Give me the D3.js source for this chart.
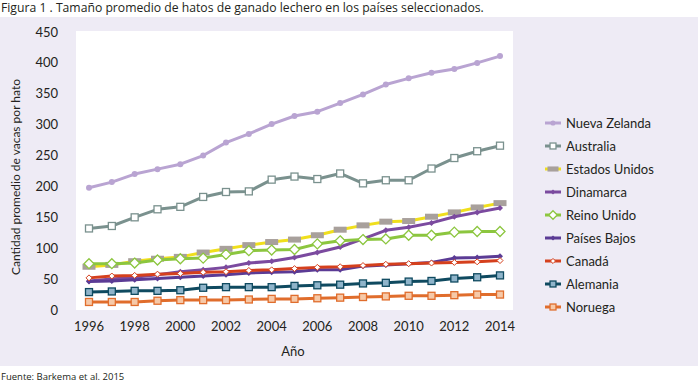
<!DOCTYPE html>
<html lang="es">
<head>
<meta charset="UTF-8">
<title>Tamaño promedio de hatos de ganado lechero</title>
<script src="https://d3js.org/d3.v7.min.js"></script>
<style>
    body { margin: 0; background: #fff; font-family: Lato, "Open Sans", sans-serif; }
    svg text { fill: #231f20; }
</style>
</head>
<body>
<svg id="chart" width="700" height="384"></svg>
<script>
// Data
const years = d3.range(1996, 2015);
const yTicks = [0, 50, 100, 150, 200, 250, 300, 350, 400, 450];
const xTicks = [1996, 1998, 2000, 2002, 2004, 2006, 2008, 2010, 2012, 2014];

const nuevaZelanda = [198, 207, 220, 228, 236, 250, 271, 285, 301, 314, 321, 335, 349, 365, 375, 384, 390, 400, 411];
const australia    = [132, 136, 150, 163, 167, 183, 191, 192, 211, 216, 212, 221, 205, 210, 210, 229, 246, 257, 266];
const estadosUnidos = [70, 73, 79, 83, 86, 93, 99, 105, 110, 114, 121, 130, 137, 143, 144, 151, 158, 166, 173];
const dinamarca    = [47, 50, 53, 57, 62, 65, 69, 76, 79, 85, 93, 102, 115, 129, 134, 141, 151, 158, 165];
const reinoUnido   = [75, 75, 76, 81, 83, 84, 90, 96, 97, 98, 107, 112, 114, 115, 121, 121, 126, 127, 127];
const paisesBajos  = [46, 47, 49, 51, 53, 55, 57, 60, 61, 62, 65, 65, 71, 73, 75, 77, 84, 85, 87];
const canada       = [52, 55, 56, 58, 59, 61, 62, 64, 65, 67, 69, 70, 72, 74, 75, 76, 77, 78, 80];
const alemania     = [29, 30, 31, 31, 32, 36, 37, 37, 37, 39, 40, 41, 43, 44, 46, 47, 51, 53, 56];
const noruega      = [13, 13, 13, 15, 16, 16, 16, 17, 18, 18, 19, 20, 21, 22, 23, 23, 24, 25, 25];

const series = [
    { name: "Nueva Zelanda", values: nuevaZelanda, line: "#b9a4d2", marker: "circle", fill: "#b9a4d2", stroke: "#b9a4d2" },
    { name: "Australia", values: australia, line: "#7a918e", marker: "square", fill: "#ffffff", stroke: "#7a918e" },
    { name: "Estados Unidos", values: estadosUnidos, line: "#f0df1c", marker: "bar", fill: "#a8a09c", stroke: "none" },
    { name: "Dinamarca", values: dinamarca, line: "#7b4a9f", marker: "small", fill: "#7b4a9f", stroke: "#7b4a9f" },
    { name: "Reino Unido", values: reinoUnido, line: "#8cc63f", marker: "diamond", fill: "#ffffff", stroke: "#8cc63f" },
    { name: "Países Bajos", values: paisesBajos, line: "#5b3b95", marker: "small", fill: "#5b3b95", stroke: "#5b3b95" },
    { name: "Canadá", values: canada, line: "#d5401d", marker: "smallw", fill: "#ffffff", stroke: "#d5401d" },
    { name: "Alemania", values: alemania, line: "#0f4a60", marker: "square", fill: "#8fb4ca", stroke: "#0f4a60" },
    { name: "Noruega", values: noruega, line: "#e06d2c", marker: "square", fill: "#f6c9a8", stroke: "#e06d2c" }
];

const svg = d3.select("#chart");

// Background panels
svg.append("rect").attr("x", 0).attr("y", 17).attr("width", 698).attr("height", 349).attr("fill", "#eeebf5");
svg.append("rect").attr("x", 76).attr("y", 31).attr("width", 437).attr("height", 279).attr("fill", "#ffffff");

const x = d3.scaleLinear().domain([1996, 2014]).range([89, 500]);
const y = d3.scaleLinear().domain([0, 450]).range([310, 32]);

// Y axis labels
svg.append("g").selectAll("text").data(yTicks).join("text")
    .attr("x", 58).attr("y", d => y(d)).attr("dy", "0.35em")
    .attr("text-anchor", "end").attr("font-size", 13).text(d => d);

// X axis labels
svg.append("g").selectAll("text").data(xTicks).join("text")
    .attr("x", d => x(d)).attr("y", 331)
    .attr("text-anchor", "middle").attr("font-size", 13).text(d => d);

svg.append("text").attr("x", 293).attr("y", 356).attr("text-anchor", "middle")
    .attr("font-size", 13).text("Año");

svg.append("text").attr("transform", "translate(20,177) rotate(-90)")
    .attr("text-anchor", "middle").attr("font-size", 12)
    .text("Cantidad promedio de vacas por hato");

// Title and source
svg.append("text").attr("x", 1).attr("y", 12).attr("font-size", 12.2)
    .attr("font-family", "'Liberation Sans Narrow', 'Open Sans', sans-serif")
    .text("Figura 1  . Tamaño promedio de hatos de ganado lechero en los países seleccionados.");
svg.append("text").attr("x", 1).attr("y", 380).attr("font-size", 9.5)
    .attr("font-family", "'Liberation Sans Narrow', 'Open Sans', sans-serif")
    .text("Fuente: Barkema et al. 2015");

function drawMarker(g, s, cx, cy, scale) {
    const k = scale || 1;
    if (s.marker === "circle") {
        g.append("circle").attr("cx", cx).attr("cy", cy).attr("r", 3 * k).attr("fill", s.fill);
    } else if (s.marker === "square") {
        g.append("rect").attr("x", cx - 3.5 * k).attr("y", cy - 3.5 * k)
            .attr("width", 7 * k).attr("height", 7 * k)
            .attr("fill", s.fill).attr("stroke", s.stroke).attr("stroke-width", 1.3);
    } else if (s.marker === "bar") {
        g.append("rect").attr("x", cx - 6.5 * k).attr("y", cy - 3 * k)
            .attr("width", 13 * k).attr("height", 6 * k).attr("fill", s.fill);
    } else if (s.marker === "diamond") {
        const r = 5 * k;
        g.append("path").attr("d", `M${cx},${cy - r}L${cx + r},${cy}L${cx},${cy + r}L${cx - r},${cy}Z`)
            .attr("fill", s.fill).attr("stroke", s.stroke).attr("stroke-width", 1.3);
    } else if (s.marker === "small") {
        const r = 3 * k;
        g.append("path").attr("d", `M${cx},${cy - r}L${cx + r},${cy}L${cx},${cy + r}L${cx - r},${cy}Z`)
            .attr("fill", s.fill);
    } else if (s.marker === "smallw") {
        const r = 3 * k;
        g.append("path").attr("d", `M${cx},${cy - r}L${cx + r},${cy}L${cx},${cy + r}L${cx - r},${cy}Z`)
            .attr("fill", s.fill).attr("stroke", s.stroke).attr("stroke-width", 1);
    }
}

const line = d3.line().x((d, i) => x(years[i])).y(d => y(d));

series.forEach(s => {
    const g = svg.append("g");
    g.append("path").datum(s.values).attr("d", line)
        .attr("fill", "none").attr("stroke", s.line).attr("stroke-width", 3)
        .attr("stroke-linejoin", "round");
    s.values.forEach((v, i) => drawMarker(g, s, x(years[i]), y(v)));
});

// Legend
const legend = svg.append("g");
series.forEach((s, i) => {
    const ly = 123 + i * 23;
    const g = legend.append("g");
    g.append("line").attr("x1", 545).attr("x2", 561).attr("y1", ly).attr("y2", ly)
        .attr("stroke", s.line).attr("stroke-width", 3);
    drawMarker(g, s, 553, ly, 0.85);
    g.append("text").attr("x", 566).attr("y", ly).attr("dy", "0.35em")
        .attr("font-size", 13).text(s.name);
});
</script>
</body>
</html>
